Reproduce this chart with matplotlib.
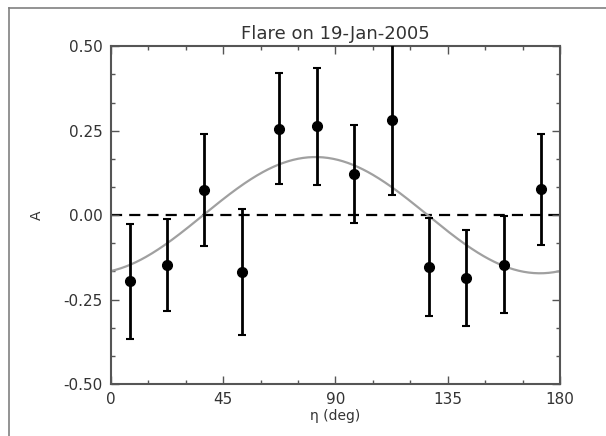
import numpy as np
from matplotlib import pyplot as plt
from matplotlib.lines import Line2D
from matplotlib.ticker import MultipleLocator

# Binned asymmetry vs. angle, with 1-sigma errors.
eta = [7.5, 22.5, 37.5, 52.5, 67.5, 82.5, 97.5, 112.5, 127.5, 142.5, 157.5, 172.5]
asym = [-0.196, -0.147, 0.074, -0.169, 0.256, 0.263, 0.121, 0.281, -0.152, -0.186, -0.147, 0.076]
asym_err = [0.170, 0.136, 0.165, 0.187, 0.165, 0.173, 0.145, 0.222, 0.145, 0.143, 0.144, 0.163]

# Cosine fit A = amp * cos(2 (eta - eta0))
fit_amp = 0.172
fit_eta0 = 82.0

x_ticks = [0, 45, 90, 135, 180]
y_ticks = [-0.50, -0.25, 0.00, 0.25, 0.50]

fig = plt.figure(figsize=(6.06, 4.36), dpi=100)
ax = fig.add_axes([0.183, 0.119, 0.741, 0.775])

# Page frame
fig.add_artist(Line2D([0.015, 0.015], [0, 0.982], transform=fig.transFigure,
                      color='#808080', lw=1.2))
fig.add_artist(Line2D([0.015, 1.0], [0.982, 0.982], transform=fig.transFigure,
                      color='#808080', lw=1.2))

ax.axhline(0, color='black', lw=1.6, ls=(0, (5, 3.2)), zorder=1)

xx = np.linspace(0, 180, 361)
ax.plot(xx, fit_amp * np.cos(np.radians(2 * (xx - fit_eta0))), color='#a0a0a0', lw=1.6, zorder=2)

ax.errorbar(eta, asym, yerr=asym_err, fmt='o', color='black', ms=7,
            elinewidth=2, capsize=3, capthick=1.5, zorder=3)

ax.set_xlim(0, 180)
ax.set_ylim(-0.5, 0.5)
ax.set_xticks(x_ticks)
ax.set_yticks(y_ticks)
ax.set_yticklabels(['%.2f' % v for v in y_ticks])
ax.xaxis.set_minor_locator(MultipleLocator(15))
ax.yaxis.set_minor_locator(MultipleLocator(0.25 / 3))
ax.tick_params(which='both', direction='in', top=True, right=True, color='#555555', labelsize=11,
               labelcolor='#333333', pad=6)
ax.tick_params(which='major', length=6, width=1)
ax.tick_params(which='minor', length=3, width=1)
for s in ax.spines.values():
    s.set_linewidth(1.5)
    s.set_color('#555555')

ax.set_title('Flare on 19-Jan-2005', fontsize=13, color='#333333', pad=5)
ax.set_xlabel('η (deg)', fontsize=10, color='#333333', labelpad=1)
ax.set_ylabel('A', fontsize=10, color='#333333', labelpad=14)

plt.savefig('out.png', dpi=100)
